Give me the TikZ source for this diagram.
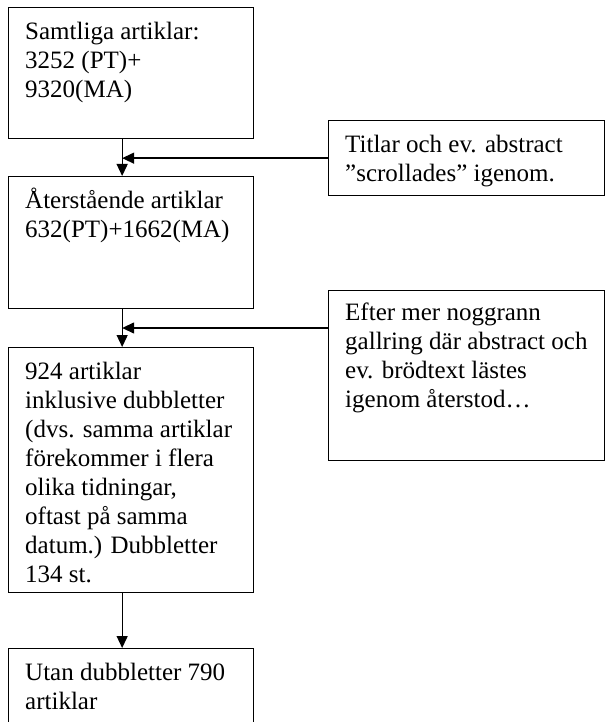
\documentclass[tikz,border=0pt]{standalone}
\usepackage{fontspec}
\setmainfont{Liberation Serif}
\usetikzlibrary{arrows.meta,calc}

\newcommand{\topfix}{\rule{0pt}{24pt}}

\begin{document}
\begin{tikzpicture}[x=1pt,y=-1pt,
	box/.style={draw,line width=1.3pt,inner sep=0pt,anchor=north west},
	txt/.style={anchor=north west,inner sep=0pt,align=left,font=\fontsize{25}{29}\selectfont},
	pil/.style={-{Triangle[length=12pt,width=11pt]},line width=1.3pt}]
		\clip (0,0) rectangle (605,722);
		% left column
		\node [box,minimum width=245,minimum height=131] (b1) at (8,7) {};
		\node [box,minimum width=245,minimum height=132] (b2) at (8,176) {};
		\node [box,minimum width=245,minimum height=245] (b3) at (8,347) {};
		\node [box,minimum width=245,minimum height=100] (b4) at (8,648) {};
		% right column
		\node [box,minimum width=276,minimum height=75] (r1) at (328,120) {};
		\node [box,minimum width=276,minimum height=170] (r2) at (328,290) {};
		%
		\node [txt] (t1) at ($(b1.north west)+(17,8)$) {\topfix Samtliga artiklar:\\3252 (PT)+\\9320(MA)};
		\node [txt] (t2) at ($(b2.north west)+(17,8)$) {\topfix Återstående artiklar\\632(PT)+1662(MA)};
		\node [txt] (t3) at ($(b3.north west)+(17,8)$) {\topfix 924 artiklar\\inklusive dubbletter\\(dvs. samma artiklar\\förekommer i flera\\olika tidningar,\\oftast på samma\\datum.) Dubbletter\\134 st.};
		\node [txt] (t4) at ($(b4.north west)+(17,8)$) {\topfix Utan dubbletter 790\\artiklar};
		\node [txt] (s1) at ($(r1.north west)+(17,8)$) {\topfix Titlar och ev. abstract\\”scrollades” igenom.};
		\node [txt] (s2) at ($(r2.north west)+(17,6)$) {\topfix Efter mer noggrann\\gallring där abstract och\\ev. brödtext lästes\\igenom återstod…};
		% connectors
		\coordinate (k1) at ([xshift=-9pt]b1.south);
		\coordinate (k2) at ([xshift=-9pt]b2.south);
		\coordinate (h2) at ($(r2.north west)+(0,38)$);
		\draw [pil] (k1) -- ([xshift=-9pt]b2.north);
		\draw [pil] (k2) -- ([xshift=-9pt]b3.north);
		\draw [pil] ([xshift=-9pt]b3.south) -- ([xshift=-9pt]b4.north);
		\draw [pil] (r1.west) -- (r1.west -| k1);
		\draw [pil] (h2) -- (h2 -| k2);
\end{tikzpicture}
\end{document}
